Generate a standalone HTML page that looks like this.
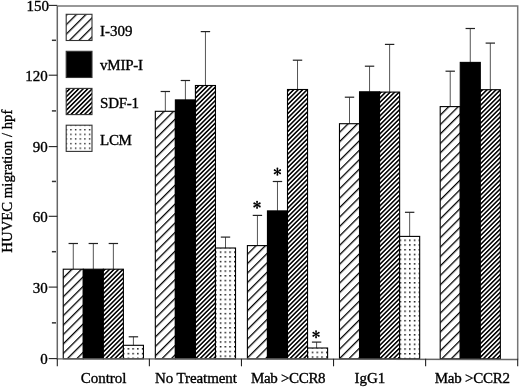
<!DOCTYPE html>
<html><head><meta charset="utf-8"><style>
html,body{margin:0;padding:0;background:#fff;}
body{width:520px;height:389px;overflow:hidden;}
svg{display:block;will-change:transform;}
.tl{font-family:"Liberation Serif",serif;font-size:15px;fill:#000;stroke:#000;stroke-width:0.35;}
.yl{font-family:"Liberation Serif",serif;font-size:14.75px;fill:#000;stroke:#000;stroke-width:0.35;}
.ast{font-family:"Liberation Serif",serif;font-size:20px;fill:#000;}
.bar{stroke:#000;stroke-width:1.1;}
.eb{stroke:#555;stroke-width:1.0;}
.cap{stroke:#222;stroke-width:1.2;}
.frame{fill:none;stroke:#777;stroke-width:1.5;}
.axl{fill:none;stroke:#666;stroke-width:1.5;}
.ax{stroke:#222;stroke-width:1.1;}
.mt{stroke:#333;stroke-width:1.5;}
.lbox{stroke:#333;stroke-width:1.1;}
</style></head><body>
<svg width="520" height="389" viewBox="0 0 520 389">
<defs>
<pattern id="h1" patternUnits="userSpaceOnUse" width="6.7" height="6.7" patternTransform="rotate(45)">
<rect width="6.7" height="6.7" fill="#fff"/><rect x="0" y="0" width="1.4" height="6.7" fill="#000"/>
</pattern>
<pattern id="h2" patternUnits="userSpaceOnUse" width="3.18" height="3.18" patternTransform="rotate(45)">
<rect width="3.18" height="3.18" fill="#fff"/><rect x="0" y="0" width="1.55" height="3.18" fill="#000"/>
</pattern>
<pattern id="a1" patternUnits="userSpaceOnUse" x="0.566" y="0" width="6.668" height="6.668" patternTransform="rotate(45)"><rect width="6.668" height="6.668" fill="#fff"/><rect width="1.3" height="6.668" fill="#000"/></pattern>
<pattern id="d2" patternUnits="userSpaceOnUse" x="122.85" y="357.55" width="4.75" height="4.73"><rect x="0" y="0" width="1.5" height="1.5" fill="#111"/></pattern>
<pattern id="a3" patternUnits="userSpaceOnUse" x="0.750" y="0" width="6.668" height="6.668" patternTransform="rotate(45)"><rect width="6.668" height="6.668" fill="#fff"/><rect width="1.3" height="6.668" fill="#000"/></pattern>
<pattern id="d4" patternUnits="userSpaceOnUse" x="215.05" y="355.45" width="4.75" height="4.73"><rect x="0" y="0" width="1.5" height="1.5" fill="#111"/></pattern>
<pattern id="a5" patternUnits="userSpaceOnUse" x="0.665" y="0" width="6.668" height="6.668" patternTransform="rotate(45)"><rect width="6.668" height="6.668" fill="#fff"/><rect width="1.3" height="6.668" fill="#000"/></pattern>
<pattern id="d6" patternUnits="userSpaceOnUse" x="307.00" y="356.35" width="4.75" height="4.73"><rect x="0" y="0" width="1.5" height="1.5" fill="#111"/></pattern>
<pattern id="a7" patternUnits="userSpaceOnUse" x="6.266" y="0" width="6.668" height="6.668" patternTransform="rotate(45)"><rect width="6.668" height="6.668" fill="#fff"/><rect width="1.3" height="6.668" fill="#000"/></pattern>
<pattern id="d8" patternUnits="userSpaceOnUse" x="399.55" y="357.75" width="4.75" height="4.73"><rect x="0" y="0" width="1.5" height="1.5" fill="#111"/></pattern>
<pattern id="a9" patternUnits="userSpaceOnUse" x="5.332" y="0" width="6.668" height="6.668" patternTransform="rotate(45)"><rect width="6.668" height="6.668" fill="#fff"/><rect width="1.3" height="6.668" fill="#000"/></pattern>
<pattern id="a10" patternUnits="userSpaceOnUse" x="3.168" y="0" width="6.718" height="6.718" patternTransform="rotate(45)"><rect width="6.718" height="6.718" fill="#fff"/><rect width="1.3" height="6.718" fill="#000"/></pattern>
<pattern id="d11" patternUnits="userSpaceOnUse" x="65.60" y="129.00" width="4.65" height="4.62"><rect x="0" y="0" width="1.4" height="1.4" fill="#222"/></pattern>
</defs>
<rect width="520" height="389" fill="#fff"/>
<line x1="73.27" y1="269.20" x2="73.27" y2="243.50" class="eb"/>
<line x1="68.56" y1="243.50" x2="77.97" y2="243.50" class="cap"/>
<rect x="63.24" y="269.20" width="20.05" height="89.60" fill="url(#a1)" class="bar"/>
<line x1="93.32" y1="269.20" x2="93.32" y2="243.50" class="eb"/>
<line x1="88.62" y1="243.50" x2="98.02" y2="243.50" class="cap"/>
<rect x="83.29" y="269.20" width="20.05" height="89.60" fill="#000" class="bar"/>
<line x1="113.37" y1="269.20" x2="113.37" y2="243.50" class="eb"/>
<line x1="108.67" y1="243.50" x2="118.07" y2="243.50" class="cap"/>
<rect x="103.34" y="269.20" width="20.05" height="89.60" fill="url(#h2)" class="bar"/>
<line x1="133.42" y1="345.30" x2="133.42" y2="336.80" class="eb"/>
<line x1="128.72" y1="336.80" x2="138.12" y2="336.80" class="cap"/>
<rect x="123.39" y="345.30" width="20.05" height="13.50" fill="#fff"/>
<rect x="123.39" y="345.30" width="20.05" height="13.50" fill="url(#d2)" class="bar"/>
<line x1="165.34" y1="111.30" x2="165.34" y2="91.50" class="eb"/>
<line x1="160.65" y1="91.50" x2="170.04" y2="91.50" class="cap"/>
<rect x="155.32" y="111.30" width="20.05" height="247.50" fill="url(#a3)" class="bar"/>
<line x1="185.40" y1="99.90" x2="185.40" y2="80.50" class="eb"/>
<line x1="180.70" y1="80.50" x2="190.09" y2="80.50" class="cap"/>
<rect x="175.37" y="99.90" width="20.05" height="258.90" fill="#000" class="bar"/>
<line x1="205.44" y1="85.50" x2="205.44" y2="31.60" class="eb"/>
<line x1="200.75" y1="31.60" x2="210.14" y2="31.60" class="cap"/>
<rect x="195.42" y="85.50" width="20.05" height="273.30" fill="url(#h2)" class="bar"/>
<line x1="225.50" y1="248.00" x2="225.50" y2="237.10" class="eb"/>
<line x1="220.80" y1="237.10" x2="230.19" y2="237.10" class="cap"/>
<rect x="215.47" y="248.00" width="20.05" height="110.80" fill="#fff"/>
<rect x="215.47" y="248.00" width="20.05" height="110.80" fill="url(#d4)" class="bar"/>
<line x1="257.43" y1="245.60" x2="257.43" y2="215.40" class="eb"/>
<line x1="252.73" y1="215.40" x2="262.12" y2="215.40" class="cap"/>
<rect x="247.40" y="245.60" width="20.05" height="113.20" fill="url(#a5)" class="bar"/>
<line x1="277.47" y1="210.90" x2="277.47" y2="181.50" class="eb"/>
<line x1="272.77" y1="181.50" x2="282.17" y2="181.50" class="cap"/>
<rect x="267.45" y="210.90" width="20.05" height="147.90" fill="#000" class="bar"/>
<line x1="297.52" y1="89.50" x2="297.52" y2="60.20" class="eb"/>
<line x1="292.82" y1="60.20" x2="302.22" y2="60.20" class="cap"/>
<rect x="287.50" y="89.50" width="20.05" height="269.30" fill="url(#h2)" class="bar"/>
<line x1="316.60" y1="348.00" x2="316.60" y2="342.10" class="eb"/>
<line x1="311.90" y1="342.10" x2="321.30" y2="342.10" class="cap"/>
<rect x="307.55" y="348.00" width="20.05" height="10.80" fill="#fff"/>
<rect x="307.55" y="348.00" width="20.05" height="10.80" fill="url(#d6)" class="bar"/>
<line x1="349.50" y1="123.70" x2="349.50" y2="97.20" class="eb"/>
<line x1="344.81" y1="97.20" x2="354.20" y2="97.20" class="cap"/>
<rect x="339.48" y="123.70" width="20.05" height="235.10" fill="url(#a7)" class="bar"/>
<line x1="369.56" y1="91.80" x2="369.56" y2="66.20" class="eb"/>
<line x1="364.86" y1="66.20" x2="374.25" y2="66.20" class="cap"/>
<rect x="359.53" y="91.80" width="20.05" height="267.00" fill="#000" class="bar"/>
<line x1="389.61" y1="92.10" x2="389.61" y2="44.40" class="eb"/>
<line x1="384.91" y1="44.40" x2="394.31" y2="44.40" class="cap"/>
<rect x="379.58" y="92.10" width="20.05" height="266.70" fill="url(#h2)" class="bar"/>
<line x1="409.65" y1="236.40" x2="409.65" y2="212.30" class="eb"/>
<line x1="404.95" y1="212.30" x2="414.35" y2="212.30" class="cap"/>
<rect x="399.63" y="236.40" width="20.05" height="122.40" fill="#fff"/>
<rect x="399.63" y="236.40" width="20.05" height="122.40" fill="url(#d8)" class="bar"/>
<line x1="450.22" y1="106.60" x2="450.22" y2="71.20" class="eb"/>
<line x1="445.52" y1="71.20" x2="454.92" y2="71.20" class="cap"/>
<rect x="440.20" y="106.60" width="20.05" height="252.20" fill="url(#a9)" class="bar"/>
<line x1="470.27" y1="62.40" x2="470.27" y2="28.50" class="eb"/>
<line x1="465.57" y1="28.50" x2="474.97" y2="28.50" class="cap"/>
<rect x="460.25" y="62.40" width="20.05" height="296.40" fill="#000" class="bar"/>
<line x1="490.32" y1="89.70" x2="490.32" y2="43.10" class="eb"/>
<line x1="485.62" y1="43.10" x2="495.02" y2="43.10" class="cap"/>
<rect x="480.30" y="89.70" width="20.05" height="269.10" fill="url(#h2)" class="bar"/>
<g transform="translate(257.05,204.85)" fill="#000"><circle r="1.1"/><g transform="rotate(0)"><path d="M-0.3,0 L-0.9,-3.0 A0.92,0.92 0 1 1 0.9,-3.0 L0.3,0 Z"/></g><g transform="rotate(60)"><path d="M-0.3,0 L-0.9,-3.0 A0.92,0.92 0 1 1 0.9,-3.0 L0.3,0 Z"/></g><g transform="rotate(120)"><path d="M-0.3,0 L-0.9,-3.0 A0.92,0.92 0 1 1 0.9,-3.0 L0.3,0 Z"/></g><g transform="rotate(180)"><path d="M-0.3,0 L-0.9,-3.0 A0.92,0.92 0 1 1 0.9,-3.0 L0.3,0 Z"/></g><g transform="rotate(240)"><path d="M-0.3,0 L-0.9,-3.0 A0.92,0.92 0 1 1 0.9,-3.0 L0.3,0 Z"/></g><g transform="rotate(300)"><path d="M-0.3,0 L-0.9,-3.0 A0.92,0.92 0 1 1 0.9,-3.0 L0.3,0 Z"/></g></g>
<g transform="translate(277.40,171.70)" fill="#000"><circle r="1.1"/><g transform="rotate(0)"><path d="M-0.3,0 L-0.9,-3.0 A0.92,0.92 0 1 1 0.9,-3.0 L0.3,0 Z"/></g><g transform="rotate(60)"><path d="M-0.3,0 L-0.9,-3.0 A0.92,0.92 0 1 1 0.9,-3.0 L0.3,0 Z"/></g><g transform="rotate(120)"><path d="M-0.3,0 L-0.9,-3.0 A0.92,0.92 0 1 1 0.9,-3.0 L0.3,0 Z"/></g><g transform="rotate(180)"><path d="M-0.3,0 L-0.9,-3.0 A0.92,0.92 0 1 1 0.9,-3.0 L0.3,0 Z"/></g><g transform="rotate(240)"><path d="M-0.3,0 L-0.9,-3.0 A0.92,0.92 0 1 1 0.9,-3.0 L0.3,0 Z"/></g><g transform="rotate(300)"><path d="M-0.3,0 L-0.9,-3.0 A0.92,0.92 0 1 1 0.9,-3.0 L0.3,0 Z"/></g></g>
<g transform="translate(316.05,334.30)" fill="#000"><circle r="1.1"/><g transform="rotate(0)"><path d="M-0.3,0 L-0.9,-3.0 A0.92,0.92 0 1 1 0.9,-3.0 L0.3,0 Z"/></g><g transform="rotate(60)"><path d="M-0.3,0 L-0.9,-3.0 A0.92,0.92 0 1 1 0.9,-3.0 L0.3,0 Z"/></g><g transform="rotate(120)"><path d="M-0.3,0 L-0.9,-3.0 A0.92,0.92 0 1 1 0.9,-3.0 L0.3,0 Z"/></g><g transform="rotate(180)"><path d="M-0.3,0 L-0.9,-3.0 A0.92,0.92 0 1 1 0.9,-3.0 L0.3,0 Z"/></g><g transform="rotate(240)"><path d="M-0.3,0 L-0.9,-3.0 A0.92,0.92 0 1 1 0.9,-3.0 L0.3,0 Z"/></g><g transform="rotate(300)"><path d="M-0.3,0 L-0.9,-3.0 A0.92,0.92 0 1 1 0.9,-3.0 L0.3,0 Z"/></g></g>
<path d="M57.30,5.9 H517.7 V359.40" class="frame"/>
<path d="M57.30,5.9 V358.80 L517.7,359.40" class="axl"/>
<line x1="57.30" y1="358.80" x2="57.30" y2="366.30" class="ax"/>
<line x1="149.38" y1="358.80" x2="149.38" y2="366.30" class="ax"/>
<line x1="241.46" y1="358.80" x2="241.46" y2="366.30" class="ax"/>
<line x1="333.54" y1="358.80" x2="333.54" y2="366.30" class="ax"/>
<line x1="425.62" y1="358.80" x2="425.62" y2="366.30" class="ax"/>
<line x1="517.70" y1="358.80" x2="517.70" y2="366.30" class="ax"/>
<line x1="48.70" y1="358.60" x2="57.30" y2="358.60" class="ax"/>
<text x="47.8" y="364.20" class="tl" text-anchor="end">0</text>
<line x1="48.70" y1="287.10" x2="57.30" y2="287.10" class="ax"/>
<text x="47.8" y="292.70" class="tl" text-anchor="end">30</text>
<line x1="48.70" y1="216.30" x2="57.30" y2="216.30" class="ax"/>
<text x="47.8" y="221.90" class="tl" text-anchor="end">60</text>
<line x1="48.70" y1="146.60" x2="57.30" y2="146.60" class="ax"/>
<text x="47.8" y="152.20" class="tl" text-anchor="end">90</text>
<line x1="48.70" y1="75.20" x2="57.30" y2="75.20" class="ax"/>
<text x="47.8" y="80.80" class="tl" text-anchor="end">120</text>
<line x1="48.70" y1="5.40" x2="57.30" y2="5.40" class="ax"/>
<text x="49.0" y="11.00" class="tl" text-anchor="end">150</text>
<line x1="51.9" y1="322.85" x2="56.0" y2="322.85" class="mt"/>
<line x1="51.9" y1="251.70" x2="56.0" y2="251.70" class="mt"/>
<line x1="51.9" y1="181.45" x2="56.0" y2="181.45" class="mt"/>
<line x1="51.9" y1="110.90" x2="56.0" y2="110.90" class="mt"/>
<line x1="51.9" y1="40.30" x2="56.0" y2="40.30" class="mt"/>
<text x="80.70" y="383.2" class="tl">Control</text>
<text x="155.10" y="383.2" class="tl" textLength="81.7" lengthAdjust="spacing">No Treatment</text>
<text x="251.00" y="383.2" class="tl" textLength="74.6" lengthAdjust="spacing">Mab &gt;CCR8</text>
<text x="354.40" y="383.2" class="tl">IgG1</text>
<text x="434.70" y="383.2" class="tl" textLength="75.2" lengthAdjust="spacing">Mab &gt;CCR2</text>
<text transform="translate(12.3,181.15) rotate(-90)" class="yl" text-anchor="middle">HUVEC migration / hpf</text>
<rect x="66.2" y="14.30" width="25.8" height="26.2" fill="#fff"/>
<rect x="66.2" y="14.30" width="25.8" height="26.2" fill="url(#a10)" class="lbox"/>
<text x="100.1" y="35.60" class="tl">I-309</text>
<rect x="66.2" y="51.30" width="25.8" height="26.2" fill="#fff"/>
<rect x="66.2" y="51.30" width="25.8" height="26.2" fill="#000" class="lbox"/>
<text x="100.1" y="70.20" class="tl" textLength="42.9" lengthAdjust="spacing">vMIP-I</text>
<rect x="66.2" y="88.40" width="25.8" height="26.2" fill="#fff"/>
<rect x="66.2" y="88.40" width="25.8" height="26.2" fill="url(#h2)" class="lbox"/>
<text x="100.1" y="107.70" class="tl" textLength="39" lengthAdjust="spacing">SDF-1</text>
<rect x="66.2" y="125.20" width="25.8" height="26.2" fill="#fff"/>
<rect x="66.2" y="125.20" width="25.8" height="26.2" fill="url(#d11)" class="lbox"/>
<text x="100.1" y="144.70" class="tl" textLength="31.8" lengthAdjust="spacing">LCM</text>
</svg>
</body></html>
